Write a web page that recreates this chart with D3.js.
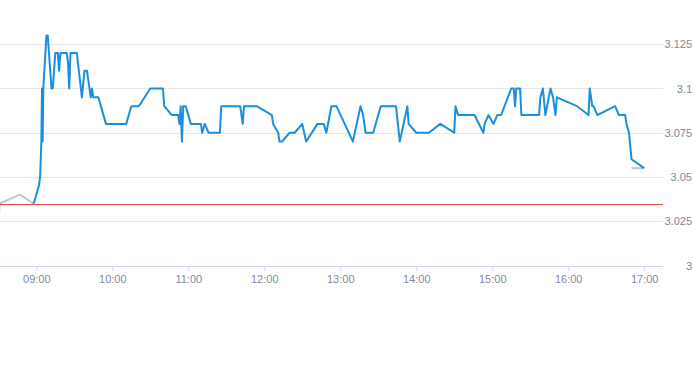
<!DOCTYPE html>
<html>
<head>
<meta charset="utf-8">
<script src="https://cdn.jsdelivr.net/npm/d3@7"></script>
<style>
  body { margin: 0; background: #fff; }
  svg { display: block; font-family: "Liberation Sans", Arial, sans-serif; }
</style>
</head>
<body>
<div id="chart"></div>
<script>
(function(d3) {
  'use strict';

  // pre-market (grey)
  var preTimes = ['08:30', '08:31', '08:47', '08:58'];
  var preValues = [3.02, 3.035, 3.04, 3.035];

  // session (blue)
  var times = [
    '08:58', '09:00', '09:02', '09:03', '09:04', '09:04:30', '09:05', '09:05:30', '09:08', '09:09',
    '09:12', '09:13', '09:15', '09:17', '09:18', '09:19', '09:24', '09:25', '09:26', '09:27',
    '09:32', '09:36', '09:38', '09:40', '09:43', '09:44', '09:45', '09:49', '09:55', '10:11',
    '10:15', '10:21', '10:30', '10:40', '10:41', '10:47', '10:52', '10:53', '10:54', '10:55',
    '10:56', '10:58', '11:02', '11:10', '11:11', '11:13', '11:16', '11:25', '11:26', '11:41',
    '11:43', '11:44', '11:54', '12:06', '12:07', '12:11', '12:12', '12:14', '12:20', '12:24',
    '12:30', '12:33', '12:42', '12:47', '12:49', '12:53', '12:57', '13:10', '13:16', '13:18',
    '13:20', '13:26', '13:32', '13:44', '13:47', '13:53', '13:54', '14:00', '14:10', '14:19',
    '14:30', '14:31', '14:33', '14:46', '14:53', '14:54', '14:57', '15:01', '15:04', '15:07',
    '15:15', '15:17', '15:18', '15:19', '15:22', '15:23', '15:37', '15:38', '15:40', '15:42',
    '15:46', '15:48', '15:50', '15:51', '16:07', '16:16', '16:17', '16:19', '16:20', '16:23',
    '16:37', '16:40', '16:45', '16:46', '16:48', '16:50', '17:00'
  ];
  var values = [
    3.035, 3.04, 3.045, 3.05, 3.07, 3.1, 3.07, 3.1, 3.13, 3.13,
    3.1, 3.1, 3.12, 3.12, 3.11, 3.12, 3.12, 3.115, 3.1, 3.12,
    3.12, 3.095, 3.11, 3.11, 3.095, 3.1, 3.095, 3.095, 3.08, 3.08,
    3.09, 3.09, 3.1, 3.1, 3.09, 3.085, 3.085, 3.08, 3.09, 3.07,
    3.09, 3.09, 3.08, 3.08, 3.075, 3.08, 3.075, 3.075, 3.09, 3.09,
    3.08, 3.09, 3.09, 3.085, 3.08, 3.075, 3.07, 3.07, 3.075, 3.075,
    3.08, 3.07, 3.08, 3.08, 3.075, 3.09, 3.09, 3.07, 3.09, 3.085,
    3.075, 3.075, 3.09, 3.09, 3.07, 3.09, 3.08, 3.075, 3.075, 3.08,
    3.075, 3.09, 3.085, 3.085, 3.075, 3.08, 3.085, 3.08, 3.085, 3.085,
    3.1, 3.1, 3.09, 3.1, 3.1, 3.085, 3.085, 3.095, 3.1, 3.085,
    3.1, 3.095, 3.085, 3.095, 3.09, 3.085, 3.1, 3.09, 3.09, 3.085,
    3.09, 3.085, 3.085, 3.08, 3.075, 3.06, 3.055
  ];

  // after hours (grey)
  var postTimes = ['16:50', '17:00'];
  var postValues = [3.055, 3.055];

  var prevClose = 3.035;
  var yTicks = [3, 3.025, 3.05, 3.075, 3.1, 3.125];
  var xTickLabels = ['09:00', '10:00', '11:00', '12:00', '13:00', '14:00', '15:00', '16:00', '17:00'];

  var width = 693;
  var height = 365;
  var plotW = 663;
  var plotH = 265.5;
  var labelColor = '#7e8a9c';

  var parse = function(s) {
    var p = s.split(':');
    return new Date(2020, 0, 1, +p[0], +p[1], p[2] ? +p[2] : 0);
  };

  var x = d3.scaleTime()
    .domain([parse('08:31:20'), parse('17:14:50')])
    .range([0, plotW]);

  var y = d3.scaleLinear()
    .domain([3, 3.15])
    .range([plotH, 0]);

  var svg = d3.select('#chart')
    .append('svg')
    .attr('width', width)
    .attr('height', height);

  svg.append('defs').append('clipPath')
    .attr('id', 'plot-clip')
    .append('rect')
    .attr('x', 0)
    .attr('y', 0)
    .attr('width', plotW)
    .attr('height', plotH);

  // grid
  svg.append('g')
    .selectAll('line')
    .data(yTicks.slice(1))
    .enter()
    .append('line')
    .attr('x1', 0)
    .attr('x2', plotW)
    .attr('y1', function(d) { return Math.round(y(d)) + 0.5; })
    .attr('y2', function(d) { return Math.round(y(d)) + 0.5; })
    .attr('stroke', '#e6e6e6')
    .attr('stroke-width', 1);

  // y labels on the right
  svg.append('g')
    .selectAll('text')
    .data(yTicks)
    .enter()
    .append('text')
    .attr('x', 692)
    .attr('y', function(d) { return y(d) + 4; })
    .attr('text-anchor', 'end')
    .attr('fill', labelColor)
    .style('font-size', '11px')
    .text(function(d) { return d3.format('')(d); });

  // x axis
  var xAxis = d3.axisBottom(x)
    .tickValues(xTickLabels.map(parse))
    .tickFormat(d3.timeFormat('%H:%M'))
    .tickSize(5)
    .tickPadding(4);

  var gx = svg.append('g')
    .attr('transform', 'translate(0,' + Math.round(plotH) + ')')
    .call(xAxis);

  gx.select('.domain')
    .attr('d', 'M0,0.5H' + plotW)
    .attr('stroke', '#ccd6eb');
  gx.selectAll('.tick line').attr('stroke', '#ccd6eb');
  gx.selectAll('.tick text')
    .attr('fill', labelColor)
    .style('font-size', '11px')
    .style('font-family', '"Liberation Sans", Arial, sans-serif');

  var line = d3.line()
    .x(function(d) { return x(d.t); })
    .y(function(d) { return y(d.v); });

  var zip = function(ts, vs) {
    return ts.map(function(t, i) { return { t: parse(t), v: vs[i] }; });
  };

  var plot = svg.append('g').attr('clip-path', 'url(#plot-clip)');

  plot.append('path')
    .datum(zip(preTimes, preValues))
    .attr('d', line)
    .attr('fill', 'none')
    .attr('stroke', '#c3c6ca')
    .attr('stroke-width', 2);

  plot.append('path')
    .datum(zip(postTimes, postValues))
    .attr('d', line)
    .attr('fill', 'none')
    .attr('stroke', '#b9c4cf')
    .attr('stroke-width', 2);

  // previous close
  plot.append('line')
    .attr('x1', 0)
    .attr('x2', plotW)
    .attr('y1', Math.round(y(prevClose)) + 0.5)
    .attr('y2', Math.round(y(prevClose)) + 0.5)
    .attr('stroke', '#e2463f')
    .attr('stroke-width', 1);

  plot.append('path')
    .datum(zip(times, values))
    .attr('d', line)
    .attr('fill', 'none')
    .attr('stroke', '#1a8fe0')
    .attr('stroke-width', 2)
    .attr('stroke-linejoin', 'round');

})(window.d3);
</script>
</body>
</html>
